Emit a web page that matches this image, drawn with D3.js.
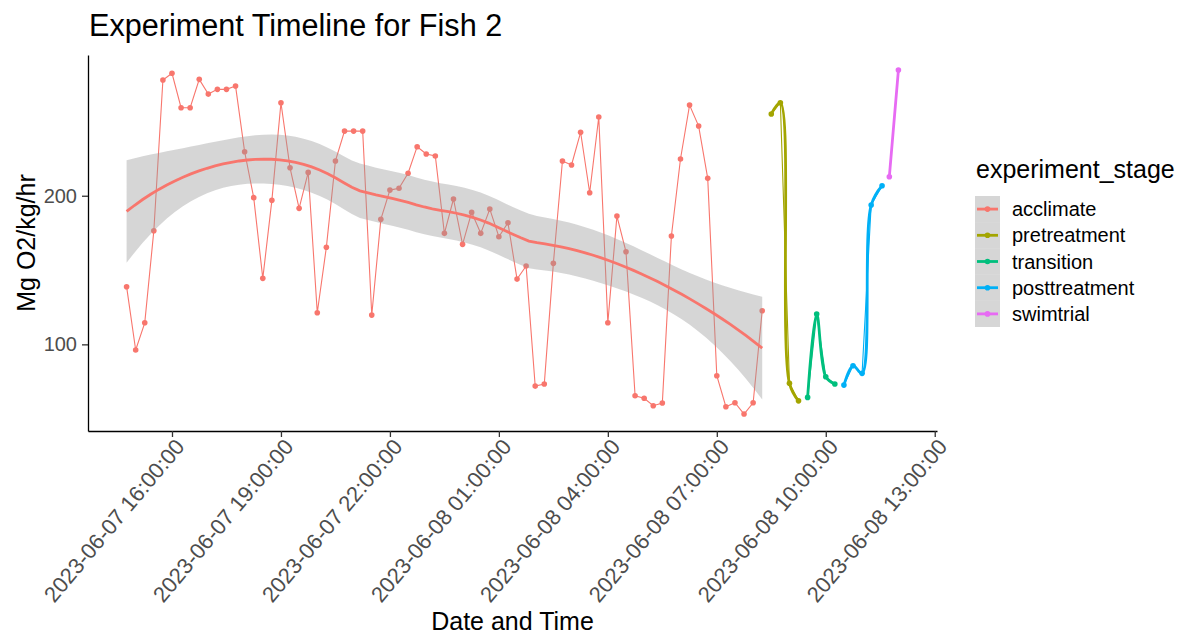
<!DOCTYPE html>
<html>
<head>
<meta charset="utf-8">
<script src="https://cdn.jsdelivr.net/npm/d3@7"></script>
<style>
  html, body { margin: 0; padding: 0; background: #fff; }
  svg { display: block; font-family: "Liberation Sans", Arial, Helvetica, sans-serif; }
</style>
</head>
<body>
<svg id="chart" width="1187" height="639"></svg>
<script>
// ---- data: oxygen consumption (Mg O2/kg/hr) by experiment stage ----
const stages = ["acclimate", "pretreatment", "transition", "posttreatment", "swimtrial"];
const stageColors = ["#F8766D", "#A3A500", "#00BF7D", "#00B0F6", "#E76BF3"];

const acclimateTimes = [
  "2023-06-07 14:45", "2023-06-07 15:00", "2023-06-07 15:15", "2023-06-07 15:30", "2023-06-07 15:45",
  "2023-06-07 16:00", "2023-06-07 16:15", "2023-06-07 16:30", "2023-06-07 16:45", "2023-06-07 17:00",
  "2023-06-07 17:15", "2023-06-07 17:30", "2023-06-07 17:45", "2023-06-07 18:00", "2023-06-07 18:15",
  "2023-06-07 18:30", "2023-06-07 18:45", "2023-06-07 19:00", "2023-06-07 19:15", "2023-06-07 19:30",
  "2023-06-07 19:45", "2023-06-07 20:00", "2023-06-07 20:15", "2023-06-07 20:30", "2023-06-07 20:45",
  "2023-06-07 21:00", "2023-06-07 21:15", "2023-06-07 21:30", "2023-06-07 21:45", "2023-06-07 22:00",
  "2023-06-07 22:15", "2023-06-07 22:30", "2023-06-07 22:45", "2023-06-07 23:00", "2023-06-07 23:15",
  "2023-06-07 23:30", "2023-06-07 23:45", "2023-06-08 00:00", "2023-06-08 00:15", "2023-06-08 00:30",
  "2023-06-08 00:45", "2023-06-08 01:00", "2023-06-08 01:15", "2023-06-08 01:30", "2023-06-08 01:45",
  "2023-06-08 02:00", "2023-06-08 02:15", "2023-06-08 02:30", "2023-06-08 02:45", "2023-06-08 03:00",
  "2023-06-08 03:15", "2023-06-08 03:30", "2023-06-08 03:45", "2023-06-08 04:00", "2023-06-08 04:15",
  "2023-06-08 04:30", "2023-06-08 04:45", "2023-06-08 05:00", "2023-06-08 05:15", "2023-06-08 05:30",
  "2023-06-08 05:45", "2023-06-08 06:00", "2023-06-08 06:15", "2023-06-08 06:30", "2023-06-08 06:45",
  "2023-06-08 07:00", "2023-06-08 07:15", "2023-06-08 07:30", "2023-06-08 07:45", "2023-06-08 08:00",
  "2023-06-08 08:15"
];
const acclimateValues = [
  138.8, 96.2, 114.5, 176.4, 277.9, 282.4, 259.2, 259.2, 278.3, 268.4,
  271.6, 271.6, 273.8, 229.6, 198.7, 144.4, 196.9, 262.6, 218.8, 191.5,
  215.7, 121.3, 165.3, 223.4, 243.5, 243.5, 243.5, 119.7, 184.1, 203.8,
  205.0, 215.1, 233.0, 228.1, 226.7, 174.7, 197.8, 167.3, 188.8, 174.7,
  191.0, 172.4, 181.8, 143.9, 152.7, 71.9, 73.3, 154.5, 223.4, 220.7,
  242.7, 202.0, 253.0, 114.5, 186.3, 162.3, 65.4, 63.7, 58.7, 60.5,
  172.9, 224.7, 261.0, 246.9, 211.7, 78.9, 58.0, 60.7, 53.1, 60.7,
  122.6
];

const pretreatmentTimes  = ["2023-06-08 08:30", "2023-06-08 08:45", "2023-06-08 09:00", "2023-06-08 09:15"];
const pretreatmentValues = [255.0, 262.6, 73.8, 62.0];

const transitionTimes  = ["2023-06-08 09:30", "2023-06-08 09:45", "2023-06-08 10:00", "2023-06-08 10:15"];
const transitionValues = [64.3, 120.4, 78.2, 73.3];

const posttreatmentTimes  = ["2023-06-08 10:30", "2023-06-08 10:45", "2023-06-08 11:00", "2023-06-08 11:15", "2023-06-08 11:33"];
const posttreatmentValues = [72.6, 85.6, 80.5, 193.7, 206.7];

const swimtrialTimes  = ["2023-06-08 11:45", "2023-06-08 12:00"];
const swimtrialValues = [212.8, 284.6];

const xTickLabels = [
  "2023-06-07 16:00:00", "2023-06-07 19:00:00", "2023-06-07 22:00:00", "2023-06-08 01:00:00",
  "2023-06-08 04:00:00", "2023-06-08 07:00:00", "2023-06-08 10:00:00", "2023-06-08 13:00:00"
];
const yTickValues = [100, 200];
const yLimits = [41.7, 294.7];
const smoothSpan = 0.75;
const bandLevel = 0.82;

// ---- assemble ----
const parseT = d3.timeParse("%Y-%m-%d %H:%M");
const parseTick = d3.timeParse("%Y-%m-%d %H:%M:%S");
const fmtTick = d3.timeFormat("%Y-%m-%d %H:%M:%S");

const stageTimes = [acclimateTimes, pretreatmentTimes, transitionTimes, posttreatmentTimes, swimtrialTimes];
const stageValues = [acclimateValues, pretreatmentValues, transitionValues, posttreatmentValues, swimtrialValues];
const groups = stages.map((s, i) => ({
  stage: s,
  color: stageColors[i],
  points: stageTimes[i].map((t, j) => ({ t: parseT(t), v: stageValues[i][j] }))
}));
const allPts = groups.flatMap(g => g.points);

// ---- layout ----
const panel = { left: 88, right: 937, top: 55, bottom: 431 };
const svg = d3.select("#chart");

const tExt = d3.extent(allPts, d => +d.t);
const tPad = (tExt[1] - tExt[0]) * 0.05;
const x = d3.scaleTime()
  .domain([new Date(tExt[0] - tPad), new Date(tExt[1] + tPad)])
  .range([panel.left, panel.right]);
const y = d3.scaleLinear().domain(yLimits).range([panel.bottom, panel.top]);

// ---- loess (local quadratic, tricube weights) ----
function loessWeights(xs, x0, span) {
  const n = xs.length;
  const q = Math.floor(n * span);
  const d = xs.map(xi => Math.abs(xi - x0));
  const h = d.slice().sort((a, b) => a - b)[q - 1];
  const w = d.map(di => { const u = di / h; return u < 1 ? Math.pow(1 - u * u * u, 3) : 0; });
  const S = [[0,0,0],[0,0,0],[0,0,0]];
  const B = xs.map(xi => { const dx = xi - x0; return [1, dx, dx * dx]; });
  for (let i = 0; i < n; i++) {
    for (let a = 0; a < 3; a++) for (let b = 0; b < 3; b++) S[a][b] += w[i] * B[i][a] * B[i][b];
  }
  const inv = inv3(S);
  return B.map((bi, i) => w[i] * (inv[0][0] * bi[0] + inv[0][1] * bi[1] + inv[0][2] * bi[2]));
}
function inv3(m) {
  const [a, b, c] = m[0], [d, e, f] = m[1], [g, h, k] = m[2];
  const A = e * k - f * h, Bc = -(d * k - f * g), C = d * h - e * g;
  const det = a * A + b * Bc + c * C;
  return [
    [A / det, -(b * k - c * h) / det, (b * f - c * e) / det],
    [Bc / det, (a * k - c * g) / det, -(a * f - c * d) / det],
    [C / det, -(a * h - b * g) / det, (a * e - b * d) / det]
  ];
}
// upper normal quantile (Abramowitz & Stegun 26.2.23) and Student-t correction
function qnormUpper(p) {
  const t = Math.sqrt(-2 * Math.log(p));
  return t - (2.515517 + 0.802853 * t + 0.010328 * t * t) /
             (1 + 1.432788 * t + 0.189269 * t * t + 0.001308 * t * t * t);
}
function qtLevel(level, df) {
  const z = qnormUpper((1 - level) / 2);
  const g1 = (z ** 3 + z) / 4;
  const g2 = (5 * z ** 5 + 16 * z ** 3 + 3 * z) / 96;
  const g3 = (3 * z ** 7 + 19 * z ** 5 + 17 * z ** 3 - 15 * z) / 384;
  return z + g1 / df + g2 / df ** 2 + g3 / df ** 3;
}
function loessSmooth(pts, span, level, nOut) {
  const t0 = +pts[0].t;
  const xs = pts.map(p => (+p.t - t0) / 3600000);
  const ys = pts.map(p => p.v);
  const n = xs.length;
  const L = xs.map(x0 => loessWeights(xs, x0, span));
  const fitted = L.map(row => d3.sum(row, (l, j) => l * ys[j]));
  const rss = d3.sum(ys, (yv, i) => (yv - fitted[i]) ** 2);
  const IL = L.map((row, i) => row.map((l, j) => (i === j ? 1 : 0) - l));
  const M = [];
  for (let i = 0; i < n; i++) {
    M.push([]);
    for (let j = 0; j < n; j++) {
      let s = 0;
      for (let k = 0; k < n; k++) s += IL[k][i] * IL[k][j];
      M[i].push(s);
    }
  }
  let delta1 = 0, delta2 = 0;
  for (let i = 0; i < n; i++) { delta1 += M[i][i]; for (let j = 0; j < n; j++) delta2 += M[i][j] * M[j][i]; }
  const s = Math.sqrt(rss / delta1);
  const tq = qtLevel(level, delta1 * delta1 / delta2);
  const xMin = xs[0], xMax = xs[n - 1];
  const out = [];
  for (let k = 0; k < nOut; k++) {
    const x0 = xMin + (xMax - xMin) * k / (nOut - 1);
    const l = loessWeights(xs, x0, span);
    const fit = d3.sum(l, (li, j) => li * ys[j]);
    const se = s * Math.sqrt(d3.sum(l, li => li * li));
    out.push({ t: new Date(t0 + x0 * 3600000), v: fit, lo: fit - tq * se, hi: fit + tq * se });
  }
  return out;
}

// ---- raw series: thin lines and points ----
const gData = svg.append("g");
const thinLine = d3.line().x(d => x(d.t)).y(d => y(d.v));
groups.forEach(g => {
  gData.append("path")
    .attr("d", thinLine(g.points))
    .attr("fill", "none")
    .attr("stroke", g.color)
    .attr("stroke-width", 1.1);
  gData.selectAll(null).data(g.points).enter().append("circle")
    .attr("cx", d => x(d.t)).attr("cy", d => y(d.v)).attr("r", 2.8)
    .attr("fill", g.color);
});

// ---- smoothers ----
const gSmooth = svg.append("g");
const acc = groups[0];
const sm = loessSmooth(acc.points, smoothSpan, bandLevel, 80);
gSmooth.append("path")
  .attr("d", d3.area().x(d => x(d.t)).y0(d => y(d.lo)).y1(d => y(d.hi))(sm))
  .attr("fill", "#999999").attr("fill-opacity", 0.4);
gSmooth.append("path")
  .attr("d", d3.line().x(d => x(d.t)).y(d => y(d.v))(sm))
  .attr("fill", "none").attr("stroke", acc.color).attr("stroke-width", 2.8);

// short stages: fitted curve passes through the few observations
const curveLine = d3.line().x(d => x(d.t)).y(d => y(d.v)).curve(d3.curveCatmullRom.alpha(0.5));
groups.slice(1).forEach(g => {
  gSmooth.append("path")
    .attr("d", curveLine(g.points))
    .attr("fill", "none").attr("stroke", g.color).attr("stroke-width", 2.8)
    .attr("stroke-linejoin", "round").attr("stroke-linecap", "round");
});

// ---- axes ----
const xAxis = d3.axisBottom(x)
  .tickValues(xTickLabels.map(parseTick))
  .tickFormat(fmtTick)
  .tickSize(6).tickSizeOuter(0).tickPadding(5);
const gx = svg.append("g").attr("transform", `translate(0,${panel.bottom})`).call(xAxis);
gx.select(".domain").attr("stroke", "#000").attr("stroke-width", 1.3);
gx.selectAll(".tick line").attr("stroke", "#333").attr("stroke-width", 1.3);
gx.selectAll(".tick text")
  .attr("fill", "#4d4d4d")
  .style("font-size", "22px")
  .attr("text-anchor", "end")
  .attr("y", 0).attr("dy", "0.72em")
  .attr("transform", "translate(1,6) rotate(-50)");

const yAxis = d3.axisLeft(y).tickValues(yTickValues).tickSize(6).tickSizeOuter(0).tickPadding(5);
const gy = svg.append("g").attr("transform", `translate(${panel.left},0)`).call(yAxis);
gy.select(".domain").attr("stroke", "#000").attr("stroke-width", 1.3);
gy.selectAll(".tick line").attr("stroke", "#333").attr("stroke-width", 1.3);
gy.selectAll(".tick text").attr("fill", "#4d4d4d").style("font-size", "20px");

// ---- titles ----
svg.append("text").attr("x", panel.left + 1).attr("y", 36)
  .style("font-size", "30.6px").attr("fill", "#000")
  .text("Experiment Timeline for Fish 2");
svg.append("text").attr("x", (panel.left + panel.right) / 2).attr("y", 630)
  .attr("text-anchor", "middle").style("font-size", "25px").attr("fill", "#000")
  .text("Date and Time");
svg.append("text")
  .attr("transform", `translate(35,${(panel.top + panel.bottom) / 2}) rotate(-90)`)
  .attr("text-anchor", "middle").style("font-size", "25px").attr("fill", "#000")
  .text("Mg O2/kg/hr");

// ---- legend ----
const lg = svg.append("g");
const keyX = 975, keyW = 25, keyTop = 196, keyH = 26.2;
lg.append("text").attr("x", 976).attr("y", 178)
  .style("font-size", "25px").attr("fill", "#000").text("experiment_stage");
stages.forEach((s, i) => {
  const cy = keyTop + keyH * i + keyH / 2;
  lg.append("rect").attr("x", keyX).attr("y", keyTop + keyH * i).attr("width", keyW).attr("height", keyH)
    .attr("fill", "#999999").attr("fill-opacity", 0.4);
  lg.append("line").attr("x1", keyX + 2).attr("x2", keyX + keyW - 2).attr("y1", cy).attr("y2", cy)
    .attr("stroke", stageColors[i]).attr("stroke-width", 2.8);
  lg.append("circle").attr("cx", keyX + keyW / 2).attr("cy", cy).attr("r", 2.8).attr("fill", stageColors[i]);
  lg.append("text").attr("x", 1012).attr("y", cy).attr("dy", "0.35em")
    .style("font-size", "20px").attr("fill", "#000").text(s);
});
</script>
</body>
</html>
